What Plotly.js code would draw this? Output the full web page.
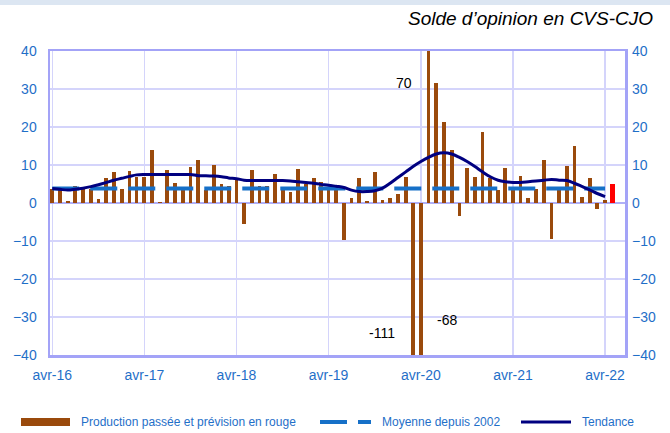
<!DOCTYPE html>
<html><head><meta charset="utf-8">
<script src="https://cdn.plot.ly/plotly-3.0.1.min.js"></script>
<style>html,body{margin:0;padding:0;background:#fff}#chart{width:670px;height:433px}</style>
</head><body><div id="chart"></div>
<script>
// ---- data ----
const startYear = 2016, startMonth = 4; // avr-16
const production = [
  3.6, 3.3, 0.5, 4.6, 3.9, 3.7, 1.0, 6.6, 8.2, 3.6, 8.4, 6.8,
  6.8, 13.9, 0.2, 8.8, 5.3, 3.5, 9.4, 11.3, 3.5, 10.1, 4.9, 4.6,
  6.0, -5.6, 8.8, 4.4, 4.6, 7.7, 3.3, 2.9, 9.0, 5.1, 6.5, 5.5,
  4.3, 3.6, -9.8, 1.4, 6.5, 0.4, 8.1, 0.7, 1.3, 2.3, 6.9, -111,
  -68, 70, 31.6, 21.3, 13.9, -3.3, 9.1, 6.8, 18.7, 6.6, 3.3, 9.1,
  3.3, 7.2, 1.4, 3.7, 11.3, -9.5, 3.4, 9.7, 14.9, 1.7, 6.6, -1.7,
  0.7
];
const forecast = [5.0]; // mai-22, prévision en rouge
const trend = [
  3.8, 3.6, 3.4, 3.6, 3.9, 4.3, 4.8, 5.4, 6.0, 6.5, 7.0, 7.4,
  7.5, 7.5, 7.5, 7.5, 7.5, 7.5, 7.5, 7.2, 7.2, 7.1, 6.9, 6.6,
  6.4, 6.0, 5.9, 5.9, 5.9, 5.9, 5.9, 5.8, 5.6, 5.4, 5.2, 4.9,
  4.7, 4.4, 4.1, 3.4, 3.0, 3.0, 3.2, 3.9, 5.2, 6.7, 8.2, 9.6,
  10.9, 12.0, 12.9, 13.2, 12.9, 12.0, 10.9, 9.6, 8.2, 6.9, 6.0, 5.6,
  5.4, 5.4, 5.6, 5.8, 6.0, 6.2, 6.0, 5.9, 5.2, 4.3, 3.4, 2.5,
  1.7
];
const meanSince2002 = 3.8;
const tickLabels = ['avr-16','avr-17','avr-18','avr-19','avr-20','avr-21','avr-22'];
const yTicks = [-40,-30,-20,-10,0,10,20,30,40];
const seriesNames = ['Production passée et prévision en rouge','Moyenne depuis 2002','Tendance'];
const chartTitle = 'Solde d’opinion en CVS-CJO';
const labelledMonths = [47, 48, 49]; // mars-20, avr-20, mai-20 (values off scale)

// ---- helpers ----
function monthDate(i){
  const m = startMonth - 1 + i;
  const y = startYear + Math.floor(m / 12);
  return y + '-' + String(m % 12 + 1).padStart(2, '0') + '-01';
}
const months = [];
for (let i = 0; i < production.length + forecast.length; i++) months.push(monthDate(i));
const prodX = months.slice(0, production.length);
const fcX = months.slice(production.length);
const tickDates = tickLabels.map((_, k) => monthDate(12 * k));

const W = 670, H = 433, M = {l: 50, r: 45, t: 51, b: 78};
const PW = W - M.l - M.r, PH = H - M.t - M.b;
const px = x => (x - M.l) / PW;
const py = y => 1 - (y - M.t) / PH;

const blue = '#1f6fc8', navy = '#000080', brown = '#9a4a0c';
const FONT = 'Liberation Sans, Arial, sans-serif';
const DAY = 86400000;

const traces = [
  {type: 'bar', x: prodX, y: production, width: 15 * DAY, marker: {color: brown, line: {width: 0}},
   name: seriesNames[0], hoverinfo: 'x+y'},
  {type: 'bar', x: fcX, y: forecast, width: 18 * DAY, marker: {color: '#ff0000', line: {width: 0}},
   name: seriesNames[0], hoverinfo: 'x+y'},
  {type: 'scatter', mode: 'lines', x: [prodX[0], prodX[prodX.length - 1]], y: [meanSince2002, meanSince2002],
   line: {color: '#1670c8', width: 4, dash: '27px,11px'}, name: seriesNames[1]},
  {type: 'scatter', mode: 'lines', x: prodX, y: trend, yaxis: 'y2',
   line: {color: navy, width: 3, shape: 'spline'}, name: seriesNames[2]}
];

const annotations = [
  {xref: 'paper', yref: 'paper', x: px(655), y: py(18), xanchor: 'right', yanchor: 'middle', showarrow: false,
   text: '<i>' + chartTitle + '</i>', font: {family: FONT, size: 19, color: '#000'}},
  {x: prodX[labelledMonths[2]], y: 31.6, xanchor: 'right', yanchor: 'middle', xshift: -14, showarrow: false,
   text: String(production[labelledMonths[2]]), font: {family: FONT, size: 14, color: '#000'}},
  {x: prodX[labelledMonths[0]], y: -34.2, xanchor: 'right', yanchor: 'middle', xshift: -16, showarrow: false,
   text: String(production[labelledMonths[0]]), font: {family: FONT, size: 14, color: '#000'}},
  {x: prodX[labelledMonths[1]], y: -30.8, xanchor: 'left', yanchor: 'middle', xshift: 14, showarrow: false,
   text: String(production[labelledMonths[1]]), font: {family: FONT, size: 14, color: '#000'}},
  {xref: 'paper', yref: 'paper', x: px(79), y: py(422), xanchor: 'left', yanchor: 'middle', showarrow: false,
   text: seriesNames[0], font: {family: FONT, size: 12, color: blue}},
  {xref: 'paper', yref: 'paper', x: px(380), y: py(422), xanchor: 'left', yanchor: 'middle', showarrow: false,
   text: seriesNames[1], font: {family: FONT, size: 12, color: blue}},
  {xref: 'paper', yref: 'paper', x: px(580), y: py(422), xanchor: 'left', yanchor: 'middle', showarrow: false,
   text: seriesNames[2], font: {family: FONT, size: 12, color: blue}}
];

const shapes = [
  {type: 'rect', xref: 'paper', yref: 'paper', x0: px(0), x1: px(670), y0: py(0), y1: py(5),
   fillcolor: '#dce6f2', line: {width: 0}, layer: 'below'},
  {type: 'rect', xref: 'paper', yref: 'paper', x0: px(21), x1: px(70), y0: py(418), y1: py(426),
   fillcolor: brown, line: {width: 0}},
  {type: 'line', xref: 'paper', yref: 'paper', x0: px(320), x1: px(371), y0: py(422), y1: py(422),
   line: {color: '#1670c8', width: 4, dash: '27px,11px'}},
  {type: 'line', xref: 'paper', yref: 'paper', x0: px(521), x1: px(571), y0: py(422), y1: py(422),
   line: {color: navy, width: 3}}
];

const tickFont = {family: FONT, size: 14, color: blue};
const layout = {
  width: W, height: H, margin: M, paper_bgcolor: '#fff', plot_bgcolor: '#fff',
  showlegend: false, barmode: 'overlay', bargap: 0,
  xaxis: {type: 'date', range: ['2016-03-23', '2022-06-19'], tickmode: 'array', tickvals: tickDates, ticktext: tickLabels,
    showgrid: true, gridcolor: '#d4d4fb', gridwidth: 1.5, showline: true, linecolor: '#a3a3f7', linewidth: 2.5,
    mirror: true, ticks: '', tickfont: tickFont, ticklabelstandoff: 6, zeroline: false},
  yaxis: {range: [-40, 40], tickmode: 'array', tickvals: yTicks, showgrid: true, gridcolor: '#d4d4fb', gridwidth: 1.5,
    zeroline: true, zerolinecolor: '#b0b0f7', zerolinewidth: 1.5, showline: true, linecolor: '#a3a3f7',
    linewidth: 2.5, mirror: true, ticks: '', tickfont: tickFont, ticklabelstandoff: 8},
  yaxis2: {range: [-40, 40], overlaying: 'y', side: 'right', tickmode: 'array', tickvals: yTicks,
    showgrid: false, zeroline: false, showline: false, ticks: '', tickfont: tickFont, ticklabelstandoff: 6},
  annotations: annotations, shapes: shapes
};

Plotly.newPlot('chart', traces, layout, {displayModeBar: false, staticPlot: true});
</script>
</body></html>
